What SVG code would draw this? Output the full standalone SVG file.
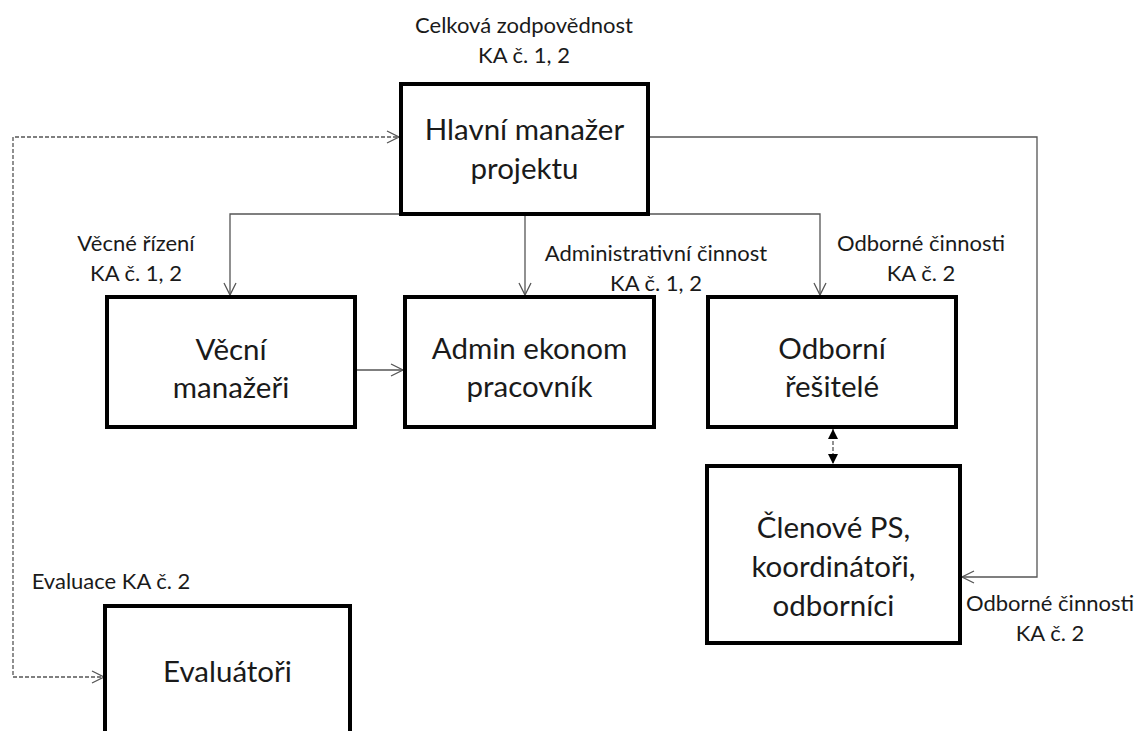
<svg xmlns="http://www.w3.org/2000/svg" width="1140" height="731" viewBox="0 0 1140 731">
<style>
.box{fill:#fff;stroke:#000;stroke-width:4}
.t{font-family:Lato,"Open Sans","Liberation Sans",sans-serif;font-size:29.5px;fill:#1a1a1a;text-anchor:middle}
.s{font-family:Lato,"Open Sans","Liberation Sans",sans-serif;font-size:22px;fill:#1a1a1a;text-anchor:middle}
.c{fill:none;stroke:#555;stroke-width:1.3}
.d{fill:none;stroke:#555;stroke-width:1.3;stroke-dasharray:4 2}
</style>
<defs>
<marker id="open" markerWidth="16" markerHeight="16" refX="13" refY="7" orient="auto" markerUnits="userSpaceOnUse">
<path d="M1,1 L13,7 L1,13" fill="none" stroke="#555" stroke-width="1.3"/>
</marker>
<marker id="fill" markerWidth="12" markerHeight="12" refX="10" refY="5" orient="auto-start-reverse" markerUnits="userSpaceOnUse">
<path d="M0,0 L10,5 L0,10 Z" fill="#000"/>
</marker>
</defs>
<g id="connectors">
<path class="c" d="M401,214 H230 V295" marker-end="url(#open)"/>
<path class="c" d="M648,214 H820 V295" marker-end="url(#open)"/>
<path class="c" d="M525,214 V295" marker-end="url(#open)"/>
<path class="c" d="M355,370 H403" marker-end="url(#open)"/>
<path class="c" d="M648,137 H1037 V577 H962" marker-end="url(#open)"/>
<path class="d" d="M13,675 V137 H399" marker-end="url(#open)"/>
<path class="d" d="M13,677 H104" marker-end="url(#open)"/>
<path class="d" d="M833,429 V464" marker-start="url(#fill)" marker-end="url(#fill)"/>
</g>
<g id="labels">
<text class="s" x="524" y="33">Celková zodpovědnost</text>
<text class="s" x="524" y="63">KA č. 1, 2</text>
<text class="s" x="136" y="251">Věcné řízení</text>
<text class="s" x="136" y="281">KA č. 1, 2</text>
<text class="s" x="656" y="261">Administrativní činnost</text>
<text class="s" x="656" y="291">KA č. 1, 2</text>
<text class="s" x="921" y="251">Odborné činnosti</text>
<text class="s" x="921" y="281">KA č. 2</text>
<text class="s" x="111" y="589">Evaluace KA č. 2</text>
<text class="s" x="1050" y="611">Odborné činnosti</text>
<text class="s" x="1050" y="641">KA č. 2</text>
</g>
<g id="hlavni">
<rect class="box" x="401" y="84" width="247" height="130"/>
<text class="t" x="524.5" y="140">Hlavní manažer</text>
<text class="t" x="524.5" y="179">projektu</text>
</g>
<g id="vecni">
<rect class="box" x="107" y="297" width="248" height="130"/>
<text class="t" x="231" y="360">Věcní</text>
<text class="t" x="231" y="398">manažeři</text>
</g>
<g id="admin">
<rect class="box" x="405" y="297" width="249" height="130"/>
<text class="t" x="529.5" y="359">Admin ekonom</text>
<text class="t" x="529.5" y="397">pracovník</text>
</g>
<g id="odborni">
<rect class="box" x="708" y="297" width="248" height="130"/>
<text class="t" x="832" y="359">Odborní</text>
<text class="t" x="832" y="397">řešitelé</text>
</g>
<g id="clenove">
<rect class="box" x="707" y="466" width="253" height="177"/>
<text class="t" x="833.5" y="538">Členové PS,</text>
<text class="t" x="833.5" y="577">koordinátoři,</text>
<text class="t" x="833.5" y="616">odborníci</text>
</g>
<g id="evaluatori">
<rect class="box" x="105" y="606" width="245" height="140"/>
<text class="t" x="227.5" y="682">Evaluátoři</text>
</g>
</svg>
